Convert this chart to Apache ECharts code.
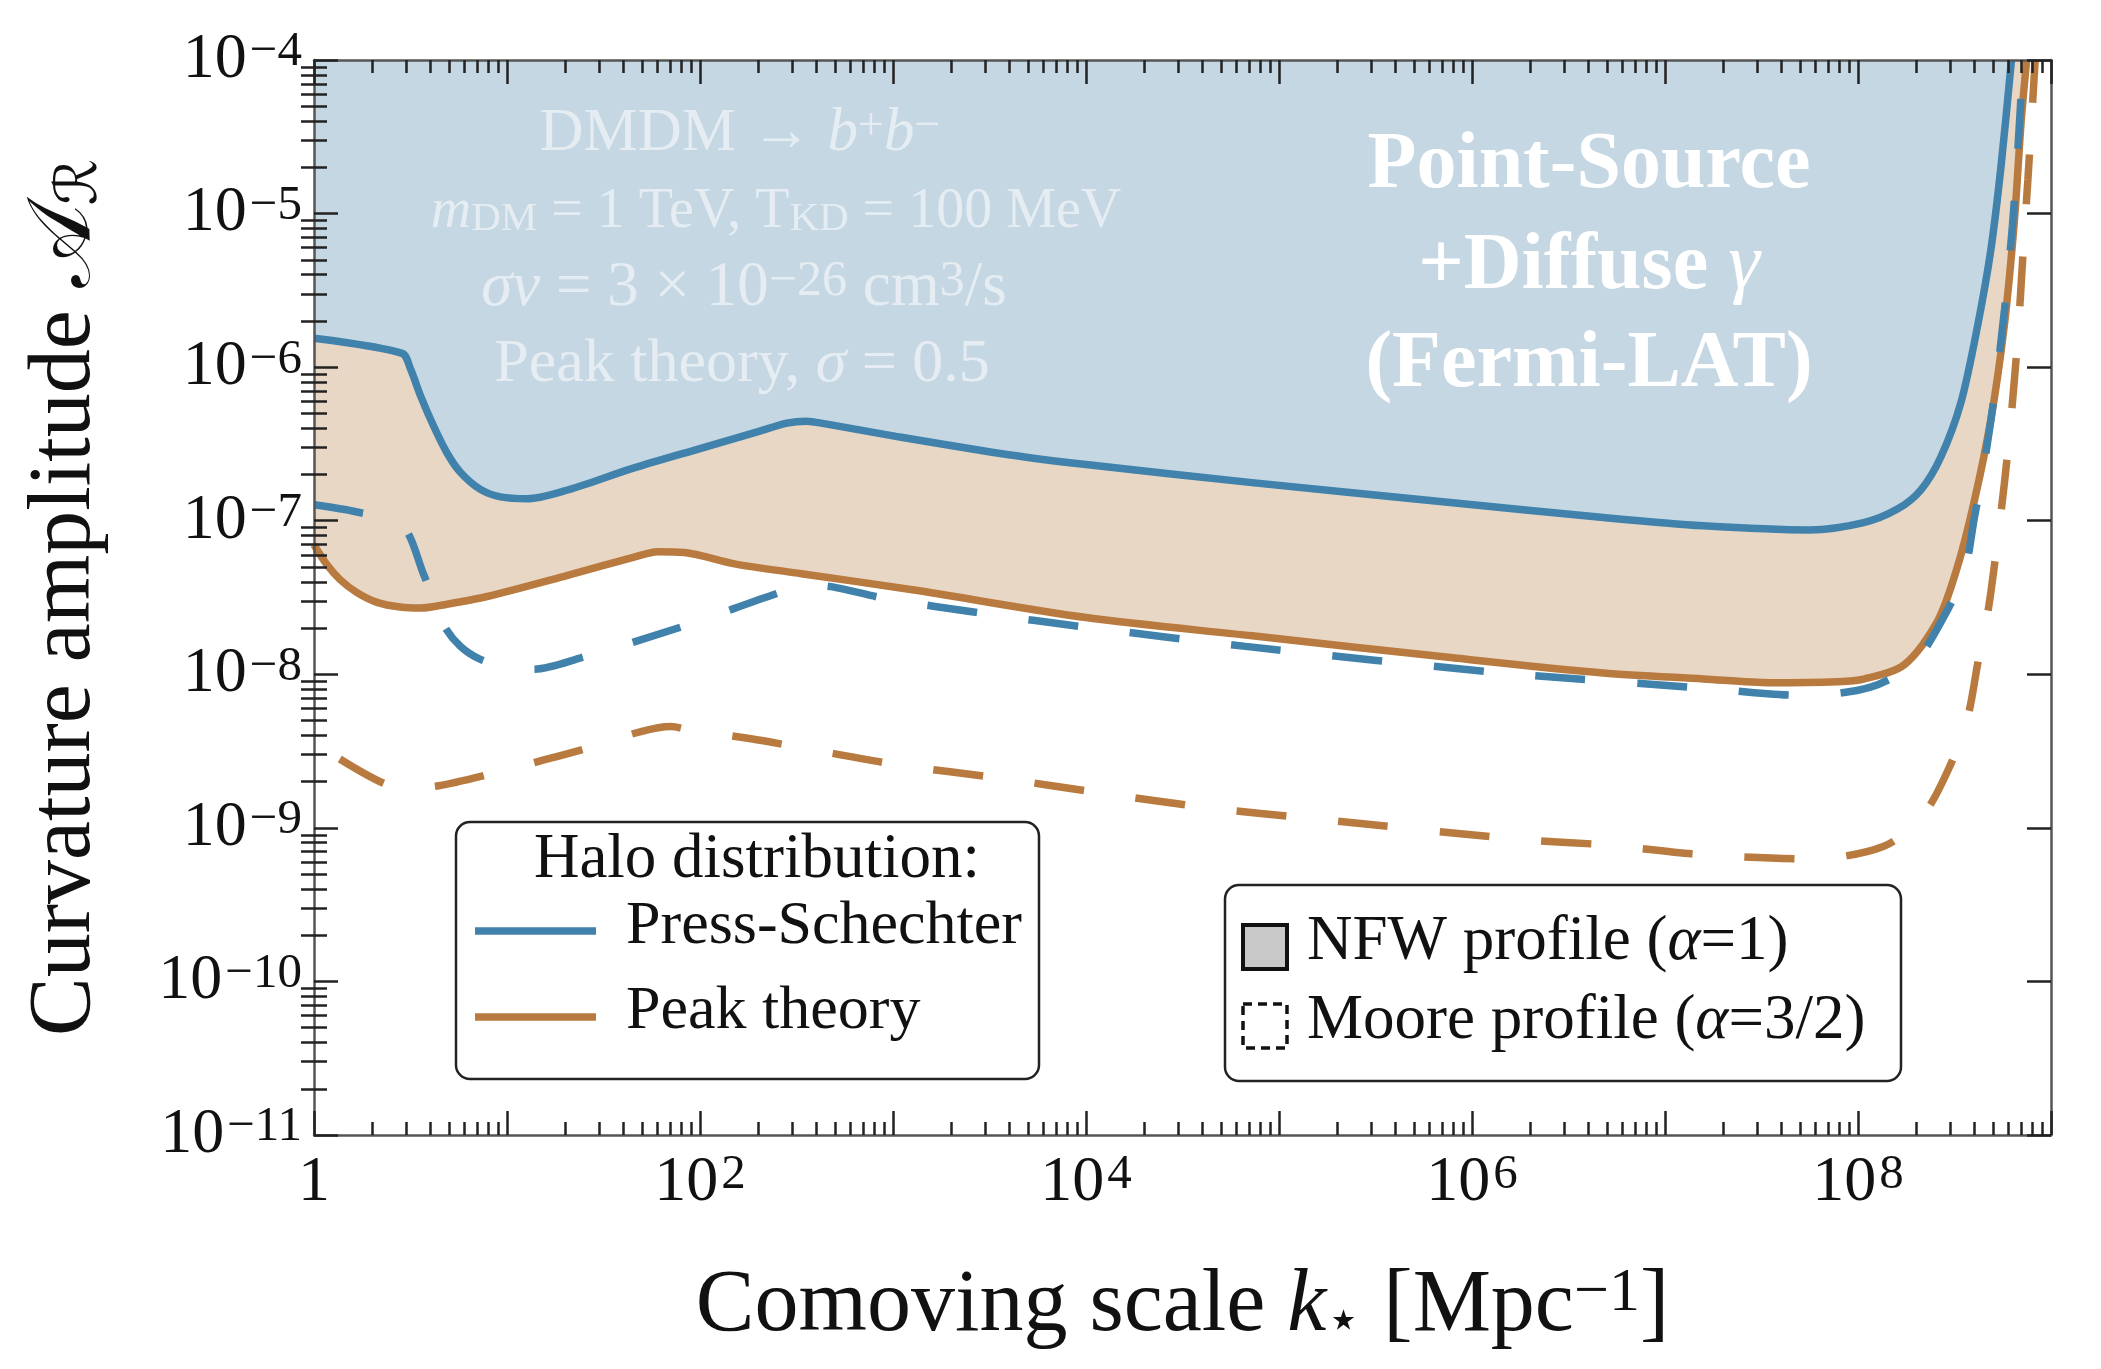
<!DOCTYPE html>
<html>
<head>
<meta charset="UTF-8">
<title>Curvature amplitude</title>
<script src="https://cdn.jsdelivr.net/npm/echarts@6/dist/echarts.min.js"></script>
<style>
html, body { margin: 0; padding: 0; background: #fff; }
#chart { width: 2101px; height: 1369px; }
</style>
</head>
<body>
<div id="chart"></div>
<script>
// Press-Schechter, NFW profile (solid blue)
var kPsNfw = [1, 2.86, 3.16, 3.56, 4.17, 4.89, 5.73, 7.28, 9.25, 12.7, 20.6, 44.7, 100, 200, 282, 355, 447, 1000, 3980, 1e4, 7.24e4, 7.94e5, 4.79e6, 1.58e7, 5.62e7, 1.07e8, 1.60e8, 2.12e8, 2.69e8, 3.42e8, 4.17e8, 4.89e8, 5.51e8, 6.24e8];
var aPsNfw = [1.54e-6, 1.23e-6, 9.75e-7, 6.53e-7, 4.12e-7, 2.76e-7, 2.07e-7, 1.60e-7, 1.43e-7, 1.39e-7, 1.585e-7, 2.19e-7, 2.95e-7, 3.80e-7, 4.32e-7, 4.45e-7, 4.27e-7, 3.57e-7, 2.69e-7, 2.32e-7, 1.77e-7, 1.31e-7, 1.05e-7, 9.27e-8, 8.71e-8, 9.72e-8, 1.19e-7, 1.59e-7, 2.61e-7, 5.93e-7, 1.87e-6, 5.93e-6, 2.04e-5, 1e-4];

// Peak theory, NFW profile (solid orange)
var kPeakNfw = [1, 1.16, 1.36, 1.67, 2.12, 2.80, 3.56, 4.89, 7.89, 20.6, 45.6, 60.3, 82.8, 151, 335, 1260, 1e4, 7.28e4, 7.96e5, 4.79e6, 1.58e7, 3.52e7, 7.80e7, 1.07e8, 1.73e8, 2.58e8, 3.28e8, 4.01e8, 4.89e8, 5.73e8, 6.46e8, 7.00e8, 7.48e8];
var aPeakNfw = [6.97e-8, 5.22e-8, 4.15e-8, 3.40e-8, 2.94e-8, 2.74e-8, 2.70e-8, 2.86e-8, 3.21e-8, 4.41e-8, 5.79e-8, 6.28e-8, 6.21e-8, 5.24e-8, 4.52e-8, 3.55e-8, 2.34e-8, 1.78e-8, 1.28e-8, 1.02e-8, 9.33e-9, 8.81e-9, 8.95e-9, 9.31e-9, 1.15e-8, 2.21e-8, 5.04e-8, 1.35e-7, 4.63e-7, 1.87e-6, 8.95e-6, 3.93e-5, 1e-4];

// Press-Schechter, Moore profile (dashed blue)
var kPsMoore = [1, 1.67, 2.86, 3.70, 4.70, 5.73, 7.28, 10, 13.8, 24.1, 79.6, 258, 355, 479, 908, 3000, 9910, 6.71e4, 1.45e6, 1.58e7, 5.24e7, 1.16e8, 1.95e8, 2.80e8, 3.56e8, 4.01e8, 4.52e8, 5.13e8, 5.75e8, 6.31e8, 6.76e8, 7.16e8];
var aPsMoore = [1.27e-7, 1.14e-7, 9.33e-8, 4.46e-8, 2.09e-8, 1.52e-8, 1.25e-8, 1.12e-8, 1.08e-8, 1.28e-8, 2.03e-8, 3.40e-8, 3.80e-8, 3.72e-8, 3.12e-8, 2.48e-8, 2.03e-8, 1.52e-8, 1.02e-8, 8.13e-9, 7.28e-9, 8.24e-9, 1.19e-8, 2.40e-8, 4.65e-8, 1.05e-7, 2.40e-7, 7.08e-7, 2.40e-6, 8.32e-6, 2.82e-5, 1e-4];

// Peak theory, Moore profile (dashed orange)
var kPeakMoore = [1.36, 2.34, 3.16, 4.43, 8.04, 14.9, 26.6, 49.4, 70.6, 89.7, 184, 309, 1064, 3664, 1.26e4, 4.34e4, 1.49e5, 1.77e6, 4.79e6, 1.58e7, 5.68e7, 1.36e8, 2.20e8, 3.03e8, 3.70e8, 4.17e8, 4.70e8, 5.08e8, 5.73e8, 6.21e8, 6.73e8, 7.13e8, 7.59e8, 7.94e8, 8.28e8];
var aPeakMoore = [2.81e-9, 1.93e-9, 1.82e-9, 1.88e-9, 2.23e-9, 2.73e-9, 3.33e-9, 4.24e-9, 4.57e-9, 4.32e-9, 3.80e-9, 3.39e-9, 2.57e-9, 2.10e-9, 1.67e-9, 1.35e-9, 1.15e-9, 8.41e-10, 7.76e-10, 6.68e-10, 6.28e-10, 7.59e-10, 1.24e-9, 2.61e-9, 5.25e-9, 1.17e-8, 2.51e-8, 5.01e-8, 1.74e-7, 4.68e-7, 1.58e-6, 5.01e-6, 1.66e-5, 4.17e-5, 1e-4];

// tick labels (decade exponents)
var xLabelExps = [0, 2, 4, 6, 8];
var yLabelExps = [-11, -10, -9, -8, -7, -6, -5, -4];

var SERIF = '"Liberation Serif", "DejaVu Serif", serif';
var BLUE = '#4082ab', ORANGE = '#b87a3e';
var BLUE_FILL = '#c5d7e3', TAN_FILL = '#e8d7c5';
var FADED = 'rgba(255,255,255,0.55)';

function pairs(ks, as) {
    return ks.map(function (k, i) { return [k, as[i]]; });
}

// tick positions in decade units for the decorative axes
function majors(lo, hi) {
    var out = [];
    for (var n = lo; n <= hi; n++) out.push(n);
    return out;
}
function minors(lo, hi) {
    var out = [];
    for (var n = lo; n < hi; n++) {
        for (var m = 2; m <= 9; m++) out.push(n + Math.log10(m));
    }
    return out;
}

var tickLine = { color: '#222', width: 2.5 };
var spine = { show: true, onZero: false, lineStyle: { color: '#555', width: 2.5 } };
var labelRich = {
    b: { fontSize: 64, fontFamily: SERIF, color: '#111', lineHeight: 64 },
    s: { fontSize: 49, fontFamily: SERIF, color: '#111', verticalAlign: 'top', lineHeight: 38, padding: [0, 0, 0, 3] }
};

function deco(pos, lo, hi, major, withLine, label, extra) {
    var ax = {
        type: 'value', position: pos, min: lo, max: hi, z: 10,
        axisLine: withLine ? spine : { show: false },
        axisTick: { inside: true, length: major ? 24 : 13, customValues: major ? majors(lo, hi) : minors(lo, hi), lineStyle: tickLine },
        axisLabel: label || { show: false },
        splitLine: { show: false }
    };
    return Object.assign(ax, extra || {});
}

function txt(x, y, text, size, opts) {
    var style = Object.assign({
        text: text, fontSize: size, fontFamily: SERIF, fill: '#111',
        align: 'left', verticalAlign: 'middle'
    }, opts || {});
    return { type: 'text', x: x, y: y, z: 100, style: style };
}

var itRich = function (size) { return { fontStyle: 'italic', fontSize: size, fontFamily: SERIF }; };
var supRich = { fontSize: 46, fontFamily: SERIF, verticalAlign: 'top', lineHeight: 32 };
var subRich = { fontSize: 41, fontFamily: SERIF, verticalAlign: 'bottom', lineHeight: 32 };

var chart = echarts.init(document.getElementById('chart'));

var option = {
    animation: false,
    backgroundColor: '#fff',
    grid: { left: 314, right: 50, top: 60, bottom: 234, containLabel: false },
    xAxis: [
        { type: 'log', logBase: 10, min: 1, max: 1e9, show: false },
        deco('bottom', 0, 9, true, true, {
            customValues: xLabelExps, margin: 16,
            formatter: function (v) { v = Math.round(v); return v === 0 ? '{b|1}' : '{b|10}{s|' + v + '}'; },
            rich: labelRich
        }, {
            name: 'Comoving scale {it|k}{sub|⋆} [Mpc{sup|−1}]',
            nameLocation: 'middle', nameGap: 128,
            nameTextStyle: {
                fontSize: 88, fontFamily: SERIF, color: '#111',
                rich: {
                    it: { fontSize: 88, fontFamily: SERIF, fontStyle: 'italic', color: '#111' },
                    sub: { fontSize: 56, fontFamily: '"DejaVu Serif", serif', color: '#111', verticalAlign: 'bottom', lineHeight: 40 },
                    sup: { fontSize: 62, fontFamily: SERIF, color: '#111', verticalAlign: 'top', lineHeight: 48 }
                }
            }
        }),
        deco('bottom', 0, 9, false, false),
        deco('top', 0, 9, true, true),
        deco('top', 0, 9, false, false)
    ],
    yAxis: [
        { type: 'log', logBase: 10, min: 1e-11, max: 1e-4, show: false },
        deco('left', -11, -4, true, true, {
            customValues: yLabelExps, margin: 12,
            formatter: function (v) { return '{b|10}{s|−' + Math.abs(Math.round(v)) + '}'; },
            rich: labelRich
        }, {
            name: 'Curvature amplitude {cal|𝒜}{sub|ℛ}',
            nameLocation: 'middle', nameGap: 204,
            nameTextStyle: {
                fontSize: 88, fontFamily: SERIF, color: '#111',
                rich: {
                    cal: { fontSize: 88, fontFamily: '"DejaVu Serif", "DejaVu Sans", serif', color: '#111' },
                    sub: { fontSize: 58, fontFamily: '"DejaVu Serif", "DejaVu Sans", serif', color: '#111', verticalAlign: 'bottom', lineHeight: 40 }
                }
            }
        }),
        deco('left', -11, -4, false, false),
        deco('right', -11, -4, true, true),
        deco('right', -11, -4, false, false)
    ],
    series: [
        {
            name: 'Peak theory, NFW', type: 'line', data: pairs(kPeakNfw, aPeakNfw),
            showSymbol: false, smooth: 0.3,
            lineStyle: { color: ORANGE, width: 7.5, join: 'round' },
            areaStyle: { color: TAN_FILL, opacity: 1, origin: 'end' }
        },
        {
            name: 'Press-Schechter, NFW', type: 'line', data: pairs(kPsNfw, aPsNfw),
            showSymbol: false, smooth: 0.3,
            lineStyle: { color: BLUE, width: 7.5, join: 'round' },
            areaStyle: { color: BLUE_FILL, opacity: 1, origin: 'end' }
        },
        {
            name: 'Press-Schechter, Moore', type: 'line', data: pairs(kPsMoore, aPsMoore),
            showSymbol: false, smooth: 0.3,
            lineStyle: { color: BLUE, width: 7.5, type: [50, 52] }
        },
        {
            name: 'Peak theory, Moore', type: 'line', data: pairs(kPeakMoore, aPeakMoore),
            showSymbol: false, smooth: 0.3,
            lineStyle: { color: ORANGE, width: 7.5, type: [50, 52] }
        }
    ],
    graphic: [
        // annotation, top left (faded white)
        txt(740, 134, 'DMDM → {it|b}{sup|+}{it|b}{sup|−}', 61, { fill: FADED, align: 'center',
            rich: { it: itRich(61), sup: supRich } }),
        txt(776, 212, '{it|m}{sub|DM} = 1 TeV, T{sub|KD} = 100 MeV', 56, { fill: FADED, align: 'center',
            rich: { it: itRich(56), sub: subRich } }),
        txt(744, 288, '{it|σv} = 3 × 10{sup|−26} cm{sup|3}/s', 63, { fill: FADED, align: 'center',
            rich: { it: itRich(63), sup: { fontSize: 50, fontFamily: SERIF, verticalAlign: 'top', lineHeight: 34 } } }),
        txt(742, 365, 'Peak theory, {it|σ} = 0.5', 62, { fill: FADED, align: 'center', rich: { it: itRich(62) } }),

        // annotation, top right (bold white)
        txt(1589, 166, 'Point-Source', 80, { fill: '#fff', fontWeight: 'bold', align: 'center' }),
        txt(1589, 267, '+Diffuse {it|γ}', 80, { fill: '#fff', fontWeight: 'bold', align: 'center', rich: { it: itRich(80) } }),
        txt(1589, 365, '(Fermi-LAT)', 80, { fill: '#fff', fontWeight: 'bold', align: 'center' }),

        // legend: halo distribution
        { type: 'rect', z: 100, shape: { x: 456, y: 822, width: 583, height: 257, r: 14 }, style: { fill: '#fff', stroke: '#222', lineWidth: 2.5 } },
        txt(757, 860, 'Halo distribution:', 63, { align: 'center' }),
        { type: 'line', z: 100, shape: { x1: 475, y1: 931, x2: 596, y2: 931 }, style: { stroke: BLUE, lineWidth: 7.5 } },
        txt(626, 927, 'Press-Schechter', 62),
        { type: 'line', z: 100, shape: { x1: 475, y1: 1017, x2: 596, y2: 1017 }, style: { stroke: ORANGE, lineWidth: 7.5 } },
        txt(626, 1012, 'Peak theory', 62),

        // legend: density profile
        { type: 'rect', z: 100, shape: { x: 1225, y: 885, width: 676, height: 196, r: 14 }, style: { fill: '#fff', stroke: '#222', lineWidth: 2.5 } },
        { type: 'rect', z: 101, shape: { x: 1243, y: 925, width: 44, height: 44 }, style: { fill: '#c8c8c8', stroke: '#111', lineWidth: 4 } },
        txt(1307, 942, 'NFW profile ({it|α}=1)', 63, { rich: { it: itRich(63) } }),
        { type: 'rect', z: 101, shape: { x: 1243, y: 1004, width: 44, height: 44 }, style: { fill: '#fff', stroke: '#111', lineWidth: 3.5, lineDash: [9, 6] } },
        txt(1307, 1021, 'Moore profile ({it|α}=3/2)', 63, { rich: { it: itRich(63) } })
    ]
};

chart.setOption(option);
</script>
</body>
</html>
